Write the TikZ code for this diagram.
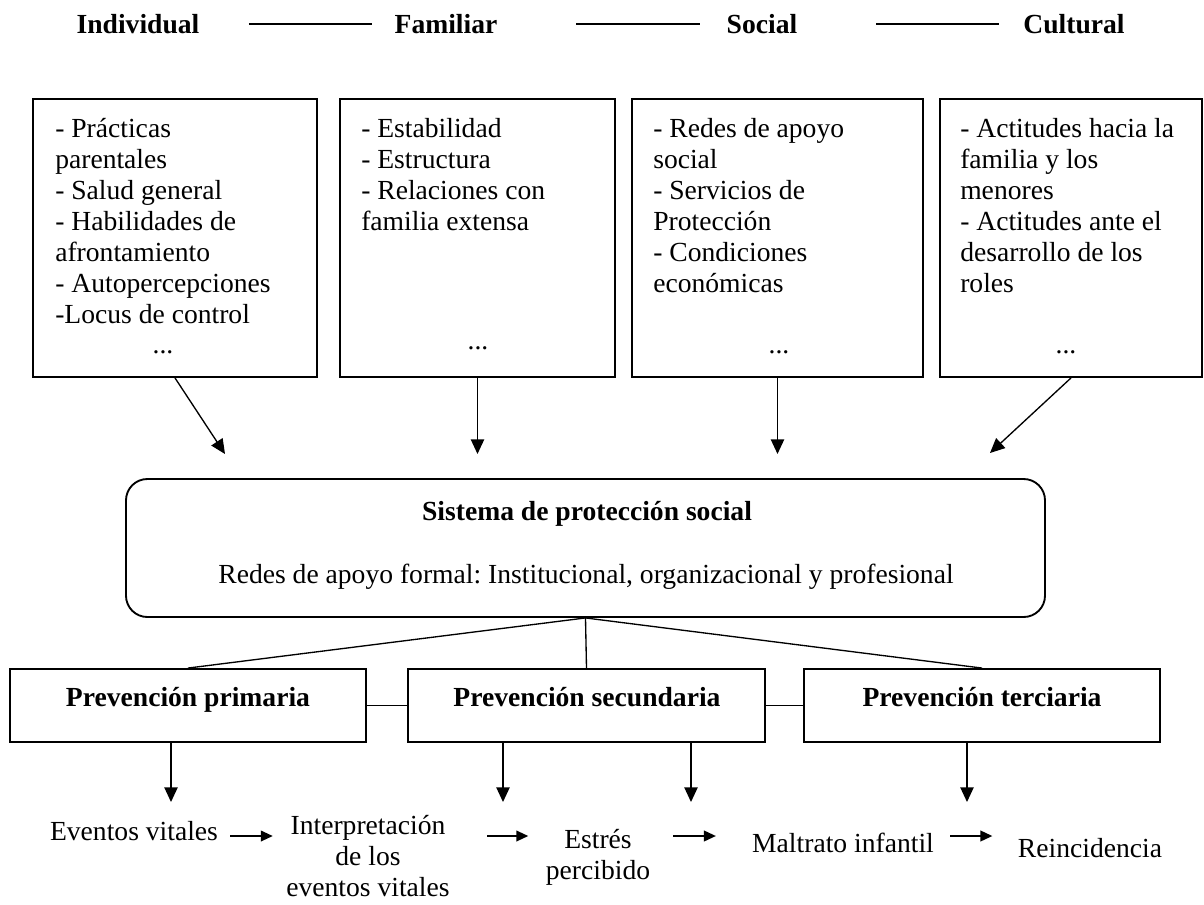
\documentclass[tikz,border=0pt]{standalone}
\usepackage{fontspec}
\setmainfont{Liberation Serif}
\usetikzlibrary{arrows.meta,fit,positioning}
\newcommand{\txt}{\fontsize{20.7}{23.25}\selectfont\frenchspacing}

\begin{document}
\begin{tikzpicture}[x=0.75pt, y=-0.75pt, >={Triangle[length=11pt,width=10pt]},
    every node/.style={font=\txt, inner sep=0pt},
    hd/.style={font=\txt\bfseries},
    box/.style={draw, line width=1.4pt, fit={#1}},
    lst/.style={anchor=north west, align=left},
    hline/.style={line width=1.6pt},
    ln/.style={line width=1pt},
    arr/.style={->, line width=1pt},
    harr/.style={-{Triangle[length=9pt,width=8pt]}, line width=1.4pt}]
    \useasboundingbox (0,0) rectangle (1204,904);
    % niveles
    \node[hd] (ind) at (138,24) {Individual};
    \node[hd] (fam) at (446,24) {Familiar};
    \node[hd] (soc) at (762,24) {Social};
    \node[hd] (cul) at (1074,24) {Cultural};
    \draw[hline, shorten <=37pt, shorten >=17pt] (ind) -- (fam);
    \draw[hline, shorten <=59pt, shorten >=20pt] (fam) -- (soc);
    \draw[hline, shorten <=59pt, shorten >=18pt] (soc) -- (cul);
    % factores
    \node[box={(33,99) (317,377)}] (bi) {};
    \node[box={(340,99) (615,377)}] (bf) {};
    \node[box={(632,99) (923,377)}] (bs) {};
    \node[box={(940,99) (1202,377)}] (bc) {};
    \node[lst] (li) at (55,116) {\strut- Prácticas\\parentales\\- Salud general\\- Habilidades de\\afrontamiento\\- Autopercepciones\\-Locus de control};
    \node[lst] (lf) at (361,116) {\strut- Estabilidad\\- Estructura\\- Relaciones con\\familia extensa};
    \node[lst] (ls) at (653,116) {\strut- Redes de apoyo\\social\\- Servicios de\\Protección\\- Condiciones\\económicas};
    \node[lst] (lc) at (960,116) {\strut- Actitudes hacia la\\familia y los\\menores\\- Actitudes ante el\\desarrollo de los\\roles};
    \node (di) at (163,352) {...};
    \node (df) at (478,348) {...};
    \node (ds) at (779,352) {...};
    \node (dc) at (1066,352) {...};
    \coordinate (ti) at (225,454);
    \coordinate (tc) at (990,453);
    \draw[arr] (bi.south) -- (ti);
    \draw[arr] (bf.south) -- (bf.south |- ti);
    \draw[arr] (bs.south) -- (bs.south |- ti);
    \draw[arr] (bc.south) -- (tc);
    % sistema
    \node[box={(126,479) (1045,617)}, rounded corners=16pt] (sps) {};
    \node[hd] (tsps) at (587,514) {Sistema de protección social};
    \node (rsps) at (586,577) {Redes de apoyo formal: Institucional, organizacional y profesional};
    % prevencion
    \node[box={(10,669) (366,742)}] (pp) {};
    \node[box={(408,669) (765,742)}] (ps) {};
    \node[box={(804,669) (1160,742)}] (pt) {};
    \node[hd, anchor=base] at (188,706) {Prevención primaria};
    \node[hd, anchor=base] at (587,706) {Prevención secundaria};
    \node[hd, anchor=base] at (982,706) {Prevención terciaria};
    \draw[ln] (sps.south) -- (pp.north);
    \draw[ln] (sps.south) -- (ps.north);
    \draw[ln] (sps.south) -- (pt.north);
    \draw[ln] (pp) -- (ps);
    \draw[ln] (ps) -- (pt);
    \coordinate (d1) at (171,802);
    \coordinate (d2) at (503,802);
    \coordinate (d3) at (691,802);
    \coordinate (d4) at (967,802);
    \draw[arr] (d1 |- pp.south) -- (d1);
    \draw[arr] (d2 |- ps.south) -- (d2);
    \draw[arr] (d3 |- ps.south) -- (d3);
    \draw[arr] (d4 |- pt.south) -- (d4);
    % secuencia
    \node (ev) at (134,831) {Eventos vitales};
    \node[align=center] (int) at (368,856) {Interpretación\\de los\\eventos vitales};
    \node[align=center] (est) at (598,857) {Estrés\\percibido};
    \node (mal) at (843,843) {Maltrato infantil};
    \node (rei) at (1090,848) {Reincidencia};
    \coordinate (ay) at (0,836);
    \draw[harr, shorten <=9pt, shorten >=10pt] (ev.east |- ay) -- (int.west |- ay);
    \draw[harr, shorten <=28pt, shorten >=13pt] (int.east |- ay) -- (est.west |- ay);
    \draw[harr, shorten <=17pt, shorten >=27pt] (est.east |- ay) -- (mal.west |- ay);
    \draw[harr, shorten <=12pt, shorten >=19pt] (mal.east |- ay) -- (rei.west |- ay);
\end{tikzpicture}
\end{document}
